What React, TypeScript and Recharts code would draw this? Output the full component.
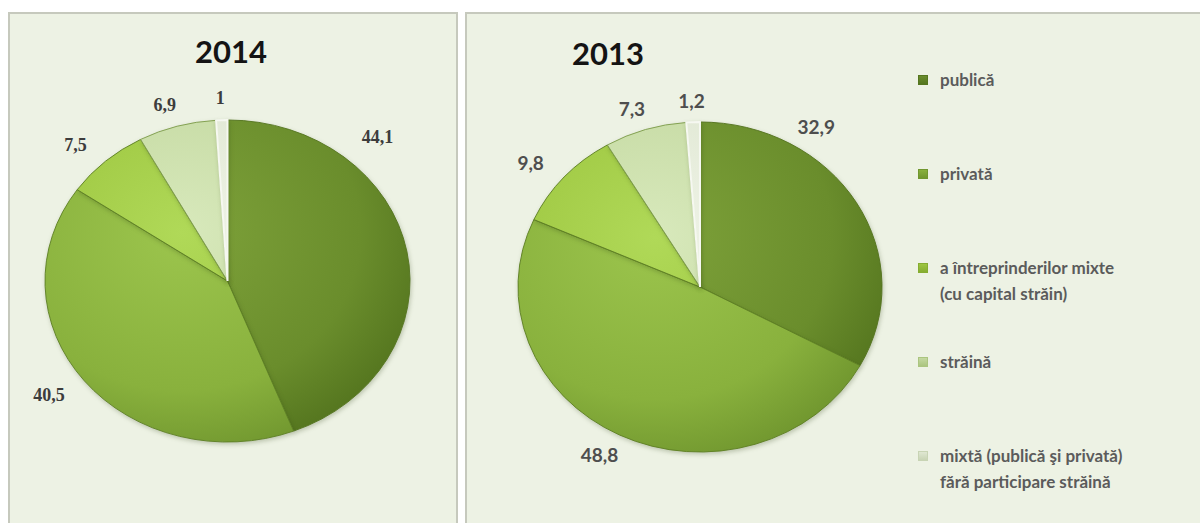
import React from 'react';
import { PieChart, Pie, Cell, Legend } from 'recharts';

// ---------- data ----------
const categories = [
  'publică',
  'privată',
  'a întreprinderilor  mixte\n(cu capital străin)',
  'străină',
  'mixtă (publică şi privată)\nfără participare  străină',
];
const values2014 = [44.1, 40.5, 7.5, 6.9, 1];
const values2013 = [32.9, 48.8, 9.8, 7.3, 1.2];
const title2014 = '2014';
const title2013 = '2013';

// ---------- styles ----------
const shades = [
  { light: '#7ea23a', base: '#6a8d2c', dark: '#55761f', stroke: '#557520' },
  { light: '#9cc54d', base: '#89b13d', dark: '#71972f', stroke: '#5f8125' },
  { light: '#b0d958', base: '#9dc640', dark: '#86ad31', stroke: '#5f8125' },
  { light: '#d8e9bc', base: '#c4d9a1', dark: '#abc57f', stroke: '#7f9d4d' },
  { light: '#f0f4e8', base: '#dfe7d2', dark: '#c8d4b4', stroke: '#f6f8f1' },
];
const legendIcon = ['#6a8d2c', '#89b13d', '#9dc640', '#c4d9a1', '#dfe7d2'];

const PANEL_BG = '#edf2e4';
const BORDER = '2px solid #c6c9bd';

const fmt = (v: number) => String(v).replace('.', ',');

const build = (vals: number[]) => categories.map((name, i) => ({ name, value: vals[i] }));
const data2014 = build(values2014);
const data2013 = build(values2013);

function makeLabel(k: number, dx: number, dy: number, firstFrac: number, firstDy: number, textStyle: any) {
  return (props: any) => {
    const { cx, cy, outerRadius, midAngle, startAngle, endAngle, index, value } = props;
    const a = index === 0 ? startAngle + (endAngle - startAngle) * firstFrac : midAngle;
    const rad = (a * Math.PI) / 180;
    const x = cx + (outerRadius + dx) * Math.cos(rad);
    const y = cy - (outerRadius * k + (index === 0 ? firstDy : dy)) * Math.sin(rad);
    return (
      <text x={x} y={y} textAnchor="middle" dominantBaseline="central" {...textStyle}>
        {fmt(value)}
      </text>
    );
  };
}

function Gradients({ prefix, cx, cy, r }: { prefix: string; cx: number; cy: number; r: number }) {
  return (
    <defs>
      {shades.map((s, i) => (
        <radialGradient
          key={i}
          id={`${prefix}-g${i}`}
          gradientUnits="userSpaceOnUse"
          cx={cx - r * 0.25}
          cy={cy - r * 0.3}
          r={r * 1.4}
        >
          <stop offset="0" stopColor={s.light} />
          <stop offset="0.7" stopColor={s.base} />
          <stop offset="1" stopColor={s.dark} />
        </radialGradient>
      ))}
    </defs>
  );
}

const renderLegend = (props: any) => {
  const payload = [...(props.payload || [])].sort(
    (p: any, q: any) => categories.indexOf(p.value) - categories.indexOf(q.value)
  );
  return (
    <div style={{ fontFamily: 'Lato, "Open Sans", sans-serif', fontWeight: 700, fontSize: 17, color: '#5b5b5b' }}>
      {payload.map((entry: any) => {
        const i = Math.max(0, categories.indexOf(entry.value));
        return (
          <div key={i} style={{ position: 'relative', height: 94 }}>
            <span
              style={{
                position: 'absolute',
                left: 0,
                top: 8,
                width: 10,
                height: 10,
                boxSizing: 'border-box',
                background: `linear-gradient(180deg, ${legendIcon[i]}, ${shades[i].dark})`,
                border: `1px solid ${shades[i].dark}`,
              }}
            />
            <div style={{ marginLeft: 22, whiteSpace: 'pre-line', lineHeight: '26px' }}>{entry.value}</div>
          </div>
        );
      })}
    </div>
  );
};

// geometry (chart-local)
const C1 = { w: 446, h: 511, cx: 217.5, cy: 267, r: 182.5, k: 161 / 182.5 };
const C2 = { w: 733, h: 509, cx: 233, cy: 273, r: 182, k: 165 / 182 };

const css = `
.pie2014 .recharts-sector { transform-box: view-box; transform-origin: ${C1.cx}px ${C1.cy}px; transform: scaleY(${C1.k}); }
.pie2013 .recharts-sector { transform-box: view-box; transform-origin: ${C2.cx}px ${C2.cy}px; transform: scaleY(${C2.k}); }
.pie2014 .recharts-pie-sector, .pie2013 .recharts-pie-sector { filter: drop-shadow(1px 2px 2px rgba(40,60,10,0.25)); }
`;

const titleStyle: React.CSSProperties = {
  position: 'absolute',
  transform: 'translate(-50%, -50%)',
  fontFamily: 'Lato, "Open Sans", sans-serif',
  fontWeight: 700,
  fontSize: 31,
  color: '#141414',
  lineHeight: 1,
  whiteSpace: 'nowrap',
};

export default function App() {
  return (
    <div style={{ position: 'fixed', left: 0, top: 0, width: 1200, height: 523, overflow: 'hidden', background: '#ffffff' }}>
      <style>{css}</style>
      {/* Panel 2014 */}
      <div
        className="pie2014"
        style={{
          position: 'absolute',
          left: 8,
          top: 12,
          width: 450,
          height: 540,
          boxSizing: 'border-box',
          border: BORDER,
          background: PANEL_BG,
        }}
      >
        <PieChart width={C1.w} height={C1.h} margin={{ top: 0, right: 0, bottom: 0, left: 0 }}>
          <Gradients prefix="a" cx={C1.cx} cy={C1.cy} r={C1.r} />
          <Pie
            data={data2014}
            dataKey="value"
            nameKey="name"
            cx={C1.cx}
            cy={C1.cy}
            outerRadius={C1.r}
            startAngle={90}
            endAngle={-270}
            isAnimationActive={false}
            labelLine={false}
            label={makeLabel(C1.k, 45, 22, 0.26, 30, {
              fontFamily: '"Liberation Serif", "Times New Roman", serif',
              fontWeight: 700,
              fontSize: 18,
              fill: '#3c3c3c',
            })}
          >
            {data2014.map((_, i) => (
              <Cell key={i} fill={`url(#a-g${i})`} stroke={shades[i].stroke} strokeWidth={i === 4 ? 2 : 1} />
            ))}
          </Pie>
        </PieChart>
      </div>
      <div style={{ ...titleStyle, left: 231, top: 51 }}>{title2014}</div>

      {/* Panel 2013 */}
      <div
        className="pie2013"
        style={{
          position: 'absolute',
          left: 465,
          top: 12,
          width: 760,
          height: 540,
          boxSizing: 'border-box',
          border: BORDER,
          background: PANEL_BG,
        }}
      >
        <PieChart width={C2.w} height={C2.h} margin={{ top: 0, right: 0, bottom: 0, left: 0 }}>
          <Gradients prefix="b" cx={C2.cx} cy={C2.cy} r={C2.r} />
          <Pie
            data={data2013}
            dataKey="value"
            nameKey="name"
            cx={C2.cx}
            cy={C2.cy}
            outerRadius={C2.r}
            startAngle={90}
            endAngle={-270}
            isAnimationActive={false}
            labelLine={false}
            label={makeLabel(C2.k, 45, 22, 0.26, 22, {
              fontFamily: 'Lato, "Open Sans", sans-serif',
              fontWeight: 700,
              fontSize: 19,
              fill: '#4e4e4e',
            })}
          >
            {data2013.map((_, i) => (
              <Cell key={i} fill={`url(#b-g${i})`} stroke={shades[i].stroke} strokeWidth={i === 4 ? 2 : 1} />
            ))}
          </Pie>
          <Legend
            layout="vertical"
            align="right"
            verticalAlign="top"
            itemSorter={null as any}
            content={renderLegend}
            wrapperStyle={{ position: 'absolute', left: 451, top: 53, width: 280, right: 'auto' }}
          />
        </PieChart>
      </div>
      <div style={{ ...titleStyle, left: 608, top: 53 }}>{title2013}</div>
    </div>
  );
}
